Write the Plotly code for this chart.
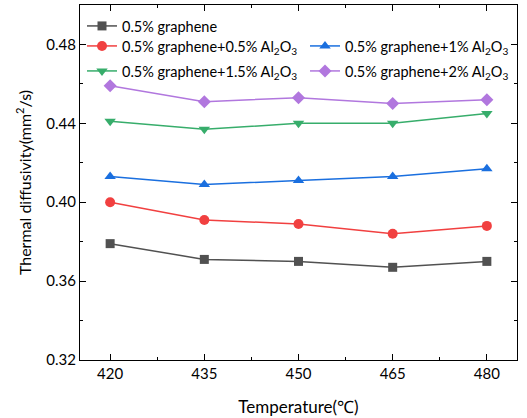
import plotly.graph_objects as go

temps = [420, 435, 450, 465, 480]
names = ["0.5% graphene",
         "0.5% graphene+0.5% Al<sub>2</sub>O<sub>3</sub>",
         "0.5% graphene+1% Al<sub>2</sub>O<sub>3</sub>",
         "0.5% graphene+1.5% Al<sub>2</sub>O<sub>3</sub>",
         "0.5% graphene+2% Al<sub>2</sub>O<sub>3</sub>"]
g0 = [0.379, 0.371, 0.370, 0.367, 0.370]
g05 = [0.400, 0.391, 0.389, 0.384, 0.388]
g1 = [0.413, 0.409, 0.411, 0.413, 0.417]
g15 = [0.441, 0.437, 0.440, 0.440, 0.445]
g2 = [0.459, 0.451, 0.453, 0.450, 0.452]
series = [g0, g05, g1, g15, g2]
colors = ["#515151", "#F14040", "#1A6FDF", "#37AD6B", "#B177DE"]
symbols = ["square", "circle", "triangle-up", "triangle-down", "diamond"]
sizes = [9, 10, 10, 10, 10]
legends = ["legend", "legend2", "legend3", "legend4", "legend5"]

fig = go.Figure()
for n, y, c, s, sz, lg in zip(names, series, colors, symbols, sizes, legends):
    fig.add_trace(go.Scatter(x=temps, y=y, name=n, mode="lines+markers",
                             line=dict(color=c, width=1.5),
                             marker=dict(symbol=s, size=sz, color=c),
                             legend=lg, showlegend=True))

font = dict(family="Lato", size=15, color="#000")
legfont = dict(family="Lato", size=14.5, color="#000")
legcommon = dict(bgcolor="rgba(0,0,0,0)", font=legfont, xanchor="left", yanchor="middle",
                 orientation="v", itemwidth=30, visible=True)
W = 437.0
H = 355.0
c1 = 2 / W
c2 = 225 / W
r1 = 1 - 21 / H
r2 = 1 - 41 / H
r3 = 1 - 66 / H
fig.update_layout(
    width=527, height=418,
    showlegend=True,
    margin=dict(l=80, r=10, t=5, b=58, autoexpand=False),
    plot_bgcolor="white", paper_bgcolor="white",
    font=font,
    legend=dict(x=c1, y=r1, **legcommon),
    legend2=dict(x=c1, y=r2, **legcommon),
    legend3=dict(x=c2, y=r2, **legcommon),
    legend4=dict(x=c1, y=r3, **legcommon),
    legend5=dict(x=c2, y=r3, **legcommon),
    xaxis=dict(range=[415.2, 484.8], tickvals=temps, ticks="inside", ticklen=6,
               minor=dict(ticks="inside", ticklen=3, tickvals=[427.5, 442.5, 457.5, 472.5], tickcolor="#000"),
               showline=True, linecolor="#000", linewidth=1.2, mirror="ticks",
               showgrid=False, zeroline=False, tickcolor="#000", automargin=False,
               title=dict(text="Temperature(℃)", font=dict(family="Lato", size=17), standoff=20)),
    yaxis=dict(range=[0.32, 0.50], tickvals=[0.32, 0.36, 0.40, 0.44, 0.48], tickformat=".2f",
               ticks="inside", ticklen=6, automargin=False,
               minor=dict(ticks="inside", ticklen=3, tickvals=[0.34, 0.38, 0.42, 0.46], tickcolor="#000"),
               showline=True, linecolor="#000", linewidth=1.2, mirror="ticks",
               showgrid=False, zeroline=False, tickcolor="#000",
               title=dict(text="Thermal diffusivity(mm<sup>2</sup>/s)", font=dict(family="Lato", size=16), standoff=10)),
)
fig.write_html("out.html", config={"displayModeBar": False},
               post_script="document.body.style.margin='0px';document.body.style.padding='0px';")
